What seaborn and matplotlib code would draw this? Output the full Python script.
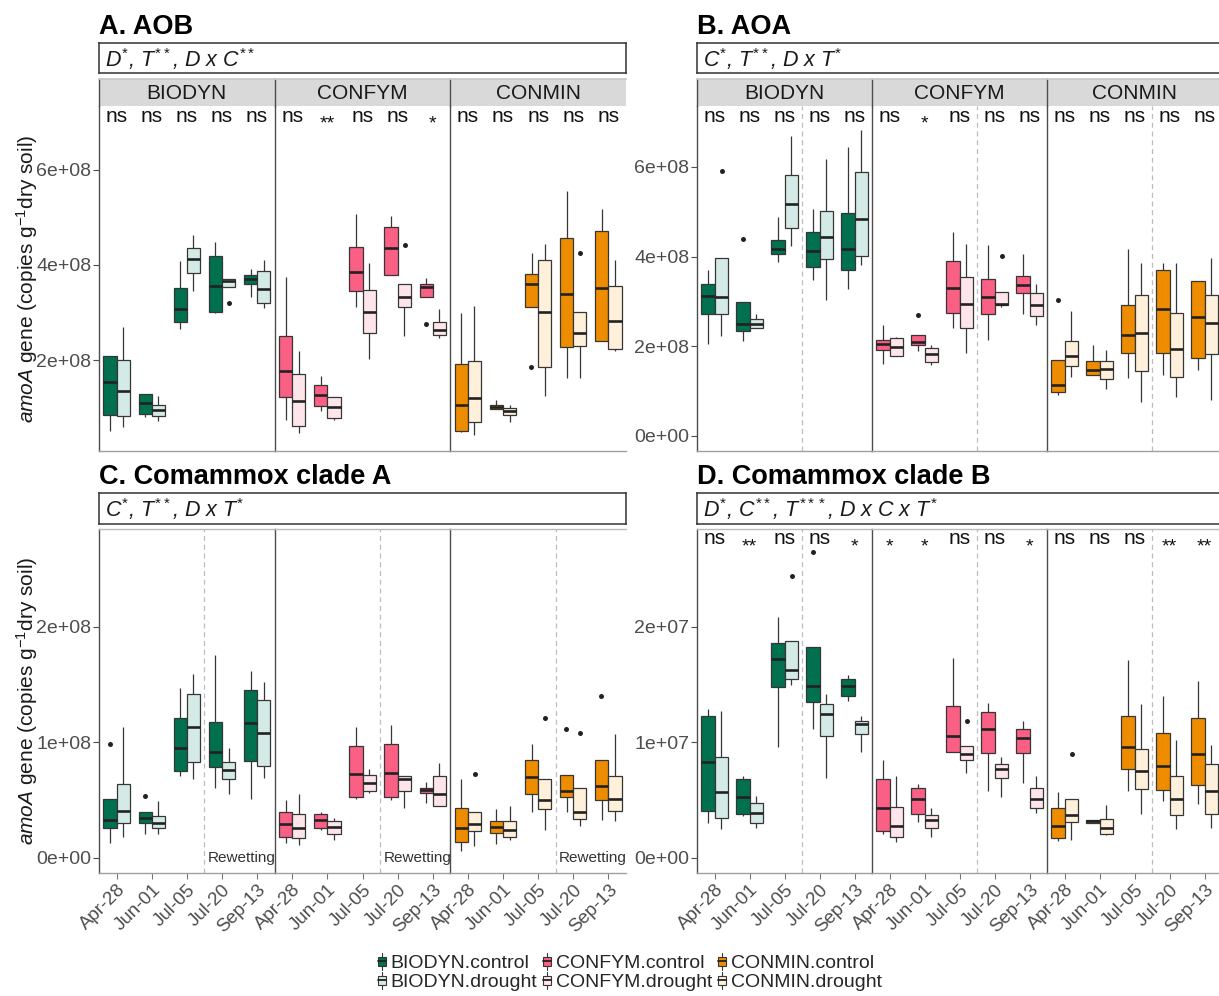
import numpy as np
import pandas as pd
import matplotlib
matplotlib.use("Agg")
import matplotlib.pyplot as plt
import seaborn as sns
from matplotlib.legend_handler import HandlerBase
from matplotlib.patches import Rectangle, Patch
from matplotlib.lines import Line2D

# ---------------------------------------------------------------- data
DATES = ["Apr-28", "Jun-01", "Jul-05", "Jul-20", "Sep-13"]
SYSTEMS = ["BIODYN", "CONFYM", "CONMIN"]
TREATMENTS = ["control", "drought"]

# five-number summaries per date: (low whisker, Q1, median, Q3, high whisker)
# Panel A - AOB (x 1e8)
AOB_BIODYN_CONTROL = [(0.50, 0.85, 1.53, 2.09, 2.09), (0.81, 0.86, 1.09, 1.28, 1.28), (2.65, 2.79, 3.08, 3.52, 4.08), (2.98, 3.02, 3.56, 4.18, 4.48), (3.33, 3.59, 3.71, 3.78, 3.92)]
AOB_BIODYN_DROUGHT = [(0.60, 0.83, 1.34, 2.01, 2.69), (0.71, 0.83, 0.95, 1.06, 1.24), (3.45, 3.82, 4.13, 4.36, 4.62), (3.54, 3.54, 3.67, 3.71, 3.71), (3.09, 3.19, 3.50, 3.87, 4.11)]
AOB_CONFYM_CONTROL = [(0.73, 1.22, 1.76, 2.51, 3.74), (0.92, 1.04, 1.26, 1.48, 1.66), (3.12, 3.45, 3.85, 4.38, 5.07), (3.78, 3.78, 4.36, 4.79, 5.02), (3.32, 3.32, 3.54, 3.59, 3.73)]
AOB_CONFYM_DROUGHT = [(0.46, 0.62, 1.13, 1.71, 2.20), (0.73, 0.78, 1.01, 1.22, 1.22), (2.02, 2.57, 3.01, 3.47, 4.04), (2.50, 3.12, 3.32, 3.59, 3.59), (2.47, 2.53, 2.63, 2.79, 3.07)]
AOB_CONMIN_CONTROL = [(0.48, 0.51, 1.06, 1.92, 2.99), (0.97, 0.97, 1.02, 1.06, 1.16), (3.12, 3.12, 3.59, 3.80, 4.24), (1.62, 2.27, 3.38, 4.57, 5.55), (2.41, 2.41, 3.52, 4.72, 5.18)]
AOB_CONMIN_DROUGHT = [(0.43, 0.69, 1.21, 1.99, 3.13), (0.69, 0.85, 0.92, 0.99, 1.06), (1.25, 1.85, 3.02, 4.10, 4.43), (1.62, 2.29, 2.57, 3.01, 3.01), (2.20, 2.23, 2.83, 3.56, 4.11)]
AOB_OUTLIERS = [("BIODYN", "Jul-20", "drought", 3.20), ("CONFYM", "Jul-20", "drought", 4.41),
                ("CONFYM", "Sep-13", "control", 2.76), ("CONMIN", "Jul-05", "control", 1.85),
                ("CONMIN", "Jul-20", "drought", 4.24)]
AOB_SIG = {"BIODYN": ["ns", "ns", "ns", "ns", "ns"], "CONFYM": ["ns", "**", "ns", "ns", "*"], "CONMIN": ["ns", "ns", "ns", "ns", "ns"]}
AOB_STATS = r"$D^{*}$, $T^{**}$, $D$ x $C^{**}$"
AOB_YTICKS = [2e8, 4e8, 6e8]

# Panel B - AOA (x 1e8)
AOA_BIODYN_CONTROL = [(2.06, 2.72, 3.12, 3.40, 3.71), (2.12, 2.35, 2.49, 2.99, 2.99), (3.87, 4.05, 4.17, 4.38, 4.88), (3.47, 3.77, 4.13, 4.54, 5.07), (3.27, 3.71, 4.17, 4.98, 6.44)]
AOA_BIODYN_DROUGHT = [(2.23, 2.72, 3.10, 3.96, 3.96), (2.40, 2.40, 2.49, 2.60, 2.73), (4.23, 4.64, 5.18, 5.83, 6.70), (3.03, 3.94, 4.44, 5.02, 6.18), (3.82, 4.01, 4.83, 5.89, 6.83)]
AOA_CONFYM_CONTROL = [(1.60, 1.92, 2.06, 2.15, 2.47), (1.90, 2.03, 2.10, 2.25, 2.25), (2.40, 2.75, 3.29, 3.90, 4.54), (2.14, 2.73, 3.10, 3.51, 4.25), (2.73, 3.18, 3.36, 3.57, 4.05)]
AOA_CONFYM_DROUGHT = [(1.78, 1.78, 1.99, 2.19, 2.21), (1.58, 1.66, 1.83, 1.97, 2.03), (1.84, 2.41, 2.95, 3.55, 4.29), (2.87, 2.92, 2.94, 3.21, 3.21), (2.47, 2.67, 2.92, 3.18, 3.40)]
AOA_CONMIN_CONTROL = [(0.91, 0.99, 1.14, 1.69, 1.69), (1.36, 1.36, 1.47, 1.68, 2.04), (1.30, 1.86, 2.26, 2.92, 4.18), (1.37, 1.84, 2.83, 3.71, 3.86), (1.48, 1.74, 2.66, 3.46, 3.46)]
AOA_CONMIN_DROUGHT = [(1.32, 1.57, 1.78, 2.12, 2.78), (1.04, 1.28, 1.49, 1.68, 1.92), (0.76, 1.45, 2.30, 3.14, 3.85), (0.88, 1.31, 1.93, 2.75, 3.86), (0.80, 1.82, 2.51, 3.14, 3.98)]
AOA_OUTLIERS = [("BIODYN", "Apr-28", "drought", 5.92), ("BIODYN", "Jun-01", "control", 4.39),
                ("CONFYM", "Jun-01", "control", 2.69), ("CONFYM", "Jul-20", "drought", 4.02),
                ("CONMIN", "Apr-28", "control", 3.04)]
AOA_SIG = {"BIODYN": ["ns", "ns", "ns", "ns", "ns"], "CONFYM": ["ns", "*", "ns", "ns", "ns"], "CONMIN": ["ns", "ns", "ns", "ns", "ns"]}
AOA_STATS = r"$C^{*}$, $T^{**}$, $D$ x $T^{*}$"
AOA_YTICKS = [0, 2e8, 4e8, 6e8]

# Panel C - Comammox clade A (x 1e8)
CMXA_BIODYN_CONTROL = [(0.13, 0.26, 0.33, 0.51, 0.51), (0.21, 0.30, 0.35, 0.40, 0.40), (0.71, 0.75, 0.95, 1.21, 1.47), (0.61, 0.79, 0.92, 1.18, 1.76), (0.51, 0.84, 1.17, 1.45, 1.62)]
CMXA_BIODYN_DROUGHT = [(0.18, 0.30, 0.41, 0.64, 1.13), (0.21, 0.26, 0.30, 0.36, 0.49), (0.68, 0.83, 1.13, 1.42, 1.59), (0.55, 0.68, 0.76, 0.83, 0.95), (0.69, 0.80, 1.08, 1.37, 1.52)]
CMXA_CONFYM_CONTROL = [(0.13, 0.18, 0.29, 0.40, 0.50), (0.24, 0.26, 0.33, 0.38, 0.40), (0.51, 0.53, 0.73, 0.97, 1.13), (0.50, 0.53, 0.74, 0.99, 1.15), (0.48, 0.56, 0.59, 0.61, 0.66)]
CMXA_CONFYM_DROUGHT = [(0.11, 0.17, 0.26, 0.38, 0.55), (0.16, 0.21, 0.27, 0.32, 0.35), (0.56, 0.58, 0.65, 0.72, 0.77), (0.43, 0.58, 0.68, 0.71, 0.71), (0.45, 0.45, 0.55, 0.71, 0.82)]
CMXA_CONMIN_CONTROL = [(0.06, 0.14, 0.26, 0.43, 0.68), (0.12, 0.22, 0.27, 0.32, 0.42), (0.40, 0.55, 0.70, 0.85, 0.99), (0.40, 0.53, 0.58, 0.72, 0.72), (0.33, 0.50, 0.62, 0.85, 0.85)]
CMXA_CONMIN_DROUGHT = [(0.10, 0.23, 0.29, 0.40, 0.40), (0.16, 0.18, 0.24, 0.32, 0.45), (0.24, 0.42, 0.50, 0.68, 0.68), (0.28, 0.34, 0.40, 0.61, 0.61), (0.32, 0.41, 0.51, 0.71, 1.07)]
CMXA_OUTLIERS = [("BIODYN", "Apr-28", "control", 0.99), ("BIODYN", "Jun-01", "control", 0.54),
                 ("CONMIN", "Apr-28", "drought", 0.73), ("CONMIN", "Jul-05", "drought", 1.21),
                 ("CONMIN", "Jul-20", "control", 1.12), ("CONMIN", "Jul-20", "drought", 1.08),
                 ("CONMIN", "Sep-13", "control", 1.40)]
CMXA_SIG = None
CMXA_STATS = r"$C^{*}$, $T^{**}$, $D$ x $T^{*}$"
CMXA_YTICKS = [0, 1e8, 2e8]

# Panel D - Comammox clade B (x 1e7)
CMXB_BIODYN_CONTROL = [(0.30, 0.41, 0.83, 1.23, 1.29), (0.36, 0.38, 0.53, 0.68, 0.71), (0.96, 1.48, 1.72, 1.86, 2.09), (1.12, 1.35, 1.49, 1.83, 1.83), (1.36, 1.40, 1.49, 1.55, 1.58)]
CMXB_BIODYN_DROUGHT = [(0.25, 0.35, 0.57, 0.87, 1.27), (0.26, 0.30, 0.39, 0.48, 0.54), (1.50, 1.55, 1.63, 1.88, 1.88), (0.69, 1.06, 1.25, 1.33, 1.42), (0.92, 1.07, 1.16, 1.19, 1.23)]
CMXB_CONFYM_CONTROL = [(0.21, 0.23, 0.43, 0.68, 0.85), (0.31, 0.38, 0.51, 0.61, 0.64), (0.92, 0.92, 1.06, 1.32, 1.73), (0.58, 0.91, 1.12, 1.26, 1.34), (0.65, 0.91, 1.04, 1.12, 1.19)]
CMXB_CONFYM_DROUGHT = [(0.14, 0.18, 0.28, 0.44, 0.71), (0.18, 0.26, 0.33, 0.37, 0.43), (0.74, 0.85, 0.90, 0.97, 0.97), (0.53, 0.69, 0.77, 0.81, 0.87), (0.39, 0.43, 0.51, 0.61, 0.71)]
CMXB_CONMIN_CONTROL = [(0.15, 0.17, 0.28, 0.43, 0.57), (0.30, 0.30, 0.32, 0.33, 0.33), (0.58, 0.77, 0.96, 1.23, 1.71), (0.49, 0.59, 0.80, 1.08, 1.40), (0.47, 0.63, 0.90, 1.21, 1.53)]
CMXB_CONMIN_DROUGHT = [(0.16, 0.31, 0.37, 0.51, 0.51), (0.20, 0.21, 0.26, 0.34, 0.46), (0.38, 0.60, 0.75, 0.94, 1.33), (0.25, 0.37, 0.51, 0.71, 1.02), (0.26, 0.38, 0.58, 0.81, 0.98)]
CMXB_OUTLIERS = [("BIODYN", "Jul-05", "drought", 2.44), ("BIODYN", "Jul-20", "control", 2.65),
                 ("CONFYM", "Jul-05", "drought", 1.19), ("CONMIN", "Apr-28", "drought", 0.90)]
CMXB_SIG = {"BIODYN": ["ns", "**", "ns", "ns", "*"], "CONFYM": ["*", "*", "ns", "ns", "*"], "CONMIN": ["ns", "ns", "ns", "**", "**"]}
CMXB_STATS = r"$D^{*}$, $C^{**}$, $T^{***}$, $D$ x $C$ x $T^{*}$"
CMXB_YTICKS = [0, 1e7, 2e7]

COLORS = {
    "BIODYN.control": "#00704F", "BIODYN.drought": "#D4EAE6",
    "CONFYM.control": "#FA5F84", "CONFYM.drought": "#FDE5EA",
    "CONMIN.control": "#EE8C00", "CONMIN.drought": "#FEF0DA",
}

# ---------------------------------------------------------------- style
sns.set_theme(style="white")
plt.rcParams["font.family"] = ["Liberation Sans", "DejaVu Sans"]
plt.rcParams["mathtext.fontset"] = "custom"
plt.rcParams["mathtext.rm"] = "Liberation Sans"
plt.rcParams["mathtext.it"] = "Liberation Sans:italic"
plt.rcParams["mathtext.bf"] = "Liberation Sans:bold"

W, H = 1219, 996
fig = plt.figure(figsize=(W / 100, H / 100), dpi=100)
fig.patch.set_facecolor("white")


def rect(x0, y0, x1, y1):
    return [x0 / W, 1 - y1 / H, (x1 - x0) / W, (y1 - y0) / H]


def five_df(ctrl, drought, scale):
    recs = []
    for trt, rows in zip(TREATMENTS, [ctrl, drought]):
        for d, five in zip(DATES, rows):
            for v in five:
                recs.append((d, trt, v * scale))
    return pd.DataFrame(recs, columns=["date", "treatment", "value"])


PANELS = [
    dict(title="A. AOB", stats=AOB_STATS, scale=1e8, yticks=AOB_YTICKS, ylim=(0.088e8, 7.34e8), sig=AOB_SIG,
         out=AOB_OUTLIERS, data={"BIODYN": (AOB_BIODYN_CONTROL, AOB_BIODYN_DROUGHT), "CONFYM": (AOB_CONFYM_CONTROL, AOB_CONFYM_DROUGHT), "CONMIN": (AOB_CONMIN_CONTROL, AOB_CONMIN_DROUGHT)},
         x0=99, x1=626, top=106, bot=451, strip=True, stats_y=(43, 73), title_y=34, dashed=False, rewet=False, xlab=False, ylab=True),
    dict(title="B. AOA", stats=AOA_STATS, scale=1e8, yticks=AOA_YTICKS, ylim=(-0.335e8, 7.36e8), sig=AOA_SIG,
         out=AOA_OUTLIERS, data={"BIODYN": (AOA_BIODYN_CONTROL, AOA_BIODYN_DROUGHT), "CONFYM": (AOA_CONFYM_CONTROL, AOA_CONFYM_DROUGHT), "CONMIN": (AOA_CONMIN_CONTROL, AOA_CONMIN_DROUGHT)},
         x0=697, x1=1222, top=106, bot=451, strip=True, stats_y=(43, 73), title_y=34, dashed=True, rewet=False, xlab=False, ylab=False),
    dict(title="C. Comammox clade A", stats=CMXA_STATS, scale=1e8, yticks=CMXA_YTICKS, ylim=(-0.13e8, 2.848e8), sig=CMXA_SIG,
         out=CMXA_OUTLIERS, data={"BIODYN": (CMXA_BIODYN_CONTROL, CMXA_BIODYN_DROUGHT), "CONFYM": (CMXA_CONFYM_CONTROL, CMXA_CONFYM_DROUGHT), "CONMIN": (CMXA_CONMIN_CONTROL, CMXA_CONMIN_DROUGHT)},
         x0=99, x1=626, top=529, bot=873, strip=False, stats_y=(493, 524), title_y=484, dashed=True, rewet=True, xlab=True, ylab=True),
    dict(title="D. Comammox clade B", stats=CMXB_STATS, scale=1e7, yticks=CMXB_YTICKS, ylim=(-0.13e7, 2.848e7), sig=CMXB_SIG,
         out=CMXB_OUTLIERS, data={"BIODYN": (CMXB_BIODYN_CONTROL, CMXB_BIODYN_DROUGHT), "CONFYM": (CMXB_CONFYM_CONTROL, CMXB_CONFYM_DROUGHT), "CONMIN": (CMXB_CONMIN_CONTROL, CMXB_CONMIN_DROUGHT)},
         x0=697, x1=1222, top=529, bot=873, strip=False, stats_y=(493, 524), title_y=484, dashed=True, rewet=False, xlab=True, ylab=False),
]

EDGE = "#363636"
AXIS_DARK = "#4D4D4D"
YLABEL = r"$\it{amoA}$ gene (copies g$^{-1}$dry soil)"

for P in PANELS:
    x0, x1, top, bot = P["x0"], P["x1"], P["top"], P["bot"]
    fw = (x1 - x0) / 3
    # title
    fig.text(x0 / W, 1 - P["title_y"] / H, P["title"], fontsize=19.5, fontweight="bold",
             ha="left", va="baseline", color="black")
    # stats box
    sy0, sy1 = P["stats_y"]
    sax = fig.add_axes(rect(x0, sy0, x1, sy1))
    sax.set_xticks([]); sax.set_yticks([])
    for s in sax.spines.values():
        s.set_color("#333333"); s.set_linewidth(1.1)
    sax.text(6 / (x1 - x0), 0.47, P["stats"], transform=sax.transAxes, fontsize=15.5,
             style="italic", ha="left", va="center", color="#1A1A1A")

    for j, sysname in enumerate(SYSTEMS):
        ax = fig.add_axes(rect(x0 + j * fw, top, x0 + (j + 1) * fw, bot))
        ctrl, dr = P["data"][sysname]
        df = five_df(ctrl, dr, P["scale"])
        pal = [COLORS[f"{sysname}.control"], COLORS[f"{sysname}.drought"]]
        sns.boxplot(data=df, x="date", y="value", hue="treatment", order=DATES, hue_order=TREATMENTS,
                    palette=pal, saturation=1, whis=(0, 100), width=0.75, gap=0, linewidth=0.9,
                    linecolor=EDGE, showcaps=False, showfliers=False,
                    medianprops=dict(linewidth=1.9, color="#222222"), legend=False, ax=ax)
        outs = [(d, t, v * P["scale"]) for (s, d, t, v) in P["out"] if s == sysname]
        if outs:
            odf = pd.DataFrame(outs, columns=["date", "treatment", "value"])
            sns.stripplot(data=odf, x="date", y="value", hue="treatment", order=DATES,
                          hue_order=TREATMENTS, dodge=True, jitter=False,
                          palette=["#222222", "#222222"], size=3.6, linewidth=0,
                          legend=False, ax=ax)
        ax.set_xlim(-0.5, 4.5)
        ax.set_ylim(*P["ylim"])
        ax.set_xlabel(""); ax.set_ylabel("")
        ax.set_facecolor("white")
        ax.spines["right"].set_visible(False)
        ax.spines["left"].set_color(AXIS_DARK); ax.spines["left"].set_linewidth(1.0)
        ax.spines["bottom"].set_color("#A0A0A0"); ax.spines["bottom"].set_linewidth(1.0)
        if P["strip"]:
            ax.spines["top"].set_visible(False)
        else:
            ax.spines["top"].set_color("#BBBBBB"); ax.spines["top"].set_linewidth(1.0)

        if j == 0:
            ax.set_yticks(P["yticks"])
            ax.set_yticklabels([f"{t:.0e}" for t in P["yticks"]])
            ax.tick_params(axis="y", left=True, length=4, width=0.8, color=AXIS_DARK, pad=1.5,
                           labelsize=14, labelcolor=AXIS_DARK)
        else:
            ax.set_yticks([])
        if P["xlab"]:
            ax.set_xticks(range(len(DATES)))
            ax.set_xticklabels(DATES, rotation=45, ha="right", va="top", rotation_mode="anchor")
            ax.tick_params(axis="x", bottom=True, length=4, width=0.8, color="#777777", pad=2,
                           labelsize=13.5, labelcolor=AXIS_DARK)
        else:
            ax.set_xticks([])

        if P["dashed"]:
            ax.axvline(2.5, color="#BDBDBD", linewidth=0.9, linestyle=(0, (4, 3)), zorder=0)
        if P["rewet"]:
            ax.text(2.6, 0, "Rewetting", fontsize=11, color="#333333", ha="left", va="center")

        if P["sig"] is not None:
            tr = ax.get_xaxis_transform()
            h = bot - top
            for i, lab in enumerate(P["sig"][sysname]):
                if lab == "ns":
                    ax.text(i, 1 - 15.5 / h, lab, transform=tr, fontsize=15, ha="center",
                            va="baseline", color="#111111")
                else:
                    ax.text(i, 1 - 22.7 / h, lab, transform=tr, fontsize=14, ha="center",
                            va="baseline", color="#111111")

        if P["strip"]:
            st = fig.add_axes(rect(x0 + j * fw, 79, x0 + (j + 1) * fw, 106))
            st.set_facecolor("#D9D9D9")
            st.set_xticks([]); st.set_yticks([])
            st.spines["right"].set_visible(False); st.spines["bottom"].set_visible(False)
            st.spines["top"].set_color("#C8C8C8")
            st.spines["left"].set_color(AXIS_DARK); st.spines["left"].set_linewidth(1.0)
            st.text(0.5, 0.45, sysname, transform=st.transAxes, fontsize=15, ha="center",
                    va="center", color="#1A1A1A")

    if P["ylab"]:
        fig.text(27 / W, 1 - (top + bot) / 2 / H, YLABEL, rotation=90, fontsize=15,
                 ha="center", va="center", color="#1A1A1A")


# ---------------------------------------------------------------- legend
class BoxHandler(HandlerBase):
    def create_artists(self, legend, orig_handle, xdescent, ydescent, width, height, fontsize, trans):
        fc = orig_handle.get_facecolor()
        x0, y0 = -xdescent, -ydescent
        r = Rectangle((x0, y0 + height * 0.22), width, height * 0.56, facecolor=fc,
                      edgecolor=EDGE, linewidth=0.8, transform=trans)
        med = Line2D([x0, x0 + width], [y0 + height * 0.5] * 2, color="#222222", lw=1.3, transform=trans)
        w1 = Line2D([x0 + width / 2] * 2, [y0, y0 + height * 0.22], color=EDGE, lw=0.8, transform=trans)
        w2 = Line2D([x0 + width / 2] * 2, [y0 + height * 0.78, y0 + height], color=EDGE, lw=0.8, transform=trans)
        return [w1, w2, r, med]


labels = [f"{s}.{t}" for s in SYSTEMS for t in TREATMENTS]
handles = [Patch(facecolor=COLORS[l]) for l in labels]
fig.legend(handles, labels, handler_map={Patch: BoxHandler()}, ncol=3, loc="center",
           bbox_to_anchor=(630 / W, 1 - 972 / H), frameon=False, fontsize=14,
           handlelength=0.4, handleheight=0.95, handletextpad=0.25, columnspacing=0.3,
           labelspacing=0.0, borderpad=0.1)

fig.savefig("out.png", dpi=100, facecolor="white")
